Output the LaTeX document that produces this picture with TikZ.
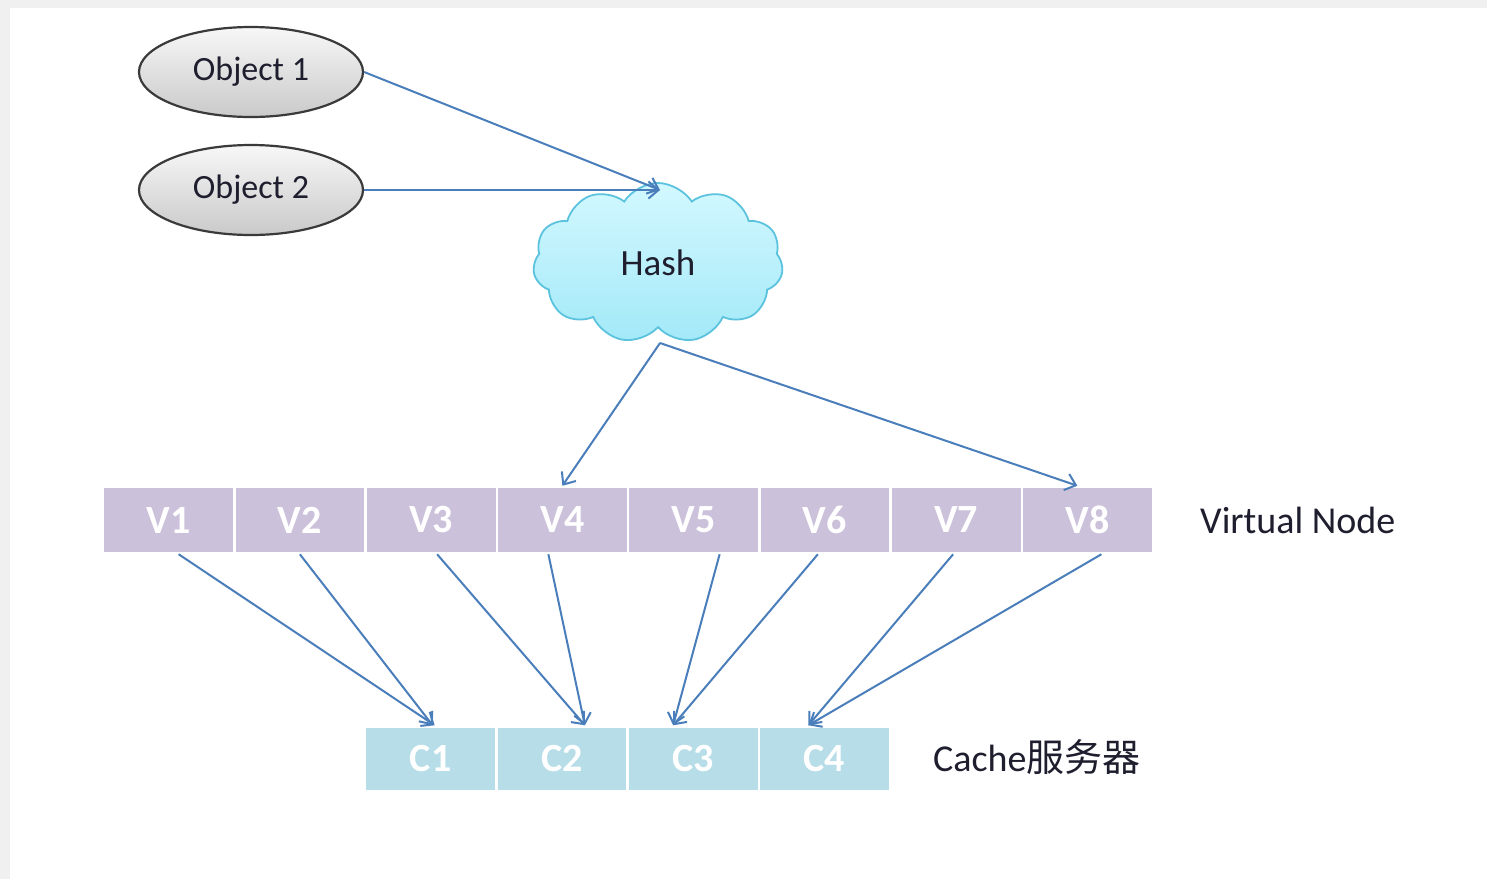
\documentclass[tikz,border=0pt]{standalone}
\usepackage{fontspec}
\setmainfont{Carlito}
\newfontfamily\cjk{Noto Sans CJK SC}
\usetikzlibrary{shapes.geometric,shapes.symbols,arrows.meta}
\definecolor{arrblue}{HTML}{4A7EBB}
\definecolor{vfill}{HTML}{CCC1DA}
\definecolor{cfill}{HTML}{B7DEE8}
\definecolor{cloudedge}{HTML}{5CC3DF}
\definecolor{cloudtop}{HTML}{D3F8FF}
\definecolor{cloudbot}{HTML}{A3E9F8}
\definecolor{framegray}{HTML}{F0F0F0}
\definecolor{ovaledge}{HTML}{3A3A3A}
\definecolor{txtdark}{HTML}{1E1E2E}
\tikzset{
  objbox/.style={ellipse, draw=ovaledge, line width=2.2pt, top color=gray!6, bottom color=gray!42,
    minimum width=224pt, minimum height=90pt, inner sep=0pt, text=txtdark,
    font=\fontsize{34}{40}\selectfont},
  hashcloud/.style={cloud, cloud puffs=11, cloud puff arc=115, aspect=1.55, draw=cloudedge, line width=1.8pt,
    top color=cloudtop, bottom color=cloudbot, minimum width=250pt, minimum height=160pt, inner sep=0pt,
    text=txtdark, font=\fontsize{37}{42}\selectfont},
  vbox/.style={rectangle, fill=vfill, draw=white, line width=2.5pt, minimum width=131.25pt, minimum height=66pt,
    inner sep=0pt, text=white, font=\bfseries\fontsize{40}{44}\selectfont},
  cbox/.style={rectangle, fill=cfill, draw=white, line width=2.5pt, minimum width=131.25pt, minimum height=65pt,
    inner sep=0pt, text=white, font=\bfseries\fontsize{40}{44}\selectfont},
  lbl/.style={anchor=west, inner sep=0pt, text=txtdark, font=\fontsize{38}{42}\selectfont},
  arr/.style={draw=arrblue, line width=2pt, -{Straight Barb[length=10pt,width=17pt]}},
}
\begin{document}
\begin{tikzpicture}[x=1pt,y=-1pt]
\fill[framegray] (0,0) rectangle (1487,879);
\fill[white] (10,8) rectangle (1487,879);
\useasboundingbox (0,0) rectangle (1487,879);

\node[objbox] (o1) at (251,72) {Object 1};
\node[objbox] (o2) at (251,190) {Object 2};
\node[hashcloud] (hash) at (658,263) {Hash\hspace{16pt}};

\foreach \i in {1,...,8} {
  \node[vbox] (v\i) at ({103+131.25*(\i-0.5)},520) {V\i};
}
\foreach \i in {1,...,4} {
  \node[cbox] (c\i) at ({365+131.25*(\i-0.5)},759) {C\i};
}
\node[lbl] (vn) at (1200,520) {Virtual Node};
\node[lbl] (cn) at (933,757) {Cache{\cjk 服务器}};

\coordinate (hin) at (660,190);
\draw[arr] (o1.east) -- (hin);
\draw[arr] (o2.east) -- (hin);
\coordinate (hout) at (660,343);
\draw[arr] (hout) -- ([xshift=0pt]v4.north);
\draw[arr] (hout) -- ([xshift=-10pt]v8.north);

\draw[arr] ([xshift=10pt]v1.south) -- ([xshift=4pt]c1.north);
\draw[arr] ([xshift=0pt]v2.south) -- ([xshift=2pt]c1.north);
\draw[arr] ([xshift=6pt]v3.south) -- ([xshift=23pt]c2.north);
\draw[arr] ([xshift=-14pt]v4.south) -- ([xshift=23pt]c2.north);
\draw[arr] ([xshift=26pt]v5.south) -- ([xshift=-20pt]c3.north);
\draw[arr] ([xshift=-7pt]v6.south) -- ([xshift=-20pt]c3.north);
\draw[arr] ([xshift=-3pt]v7.south) -- ([xshift=-16pt]c4.north);
\draw[arr] ([xshift=14pt]v8.south) -- ([xshift=-16pt]c4.north);
\end{tikzpicture}
\end{document}
